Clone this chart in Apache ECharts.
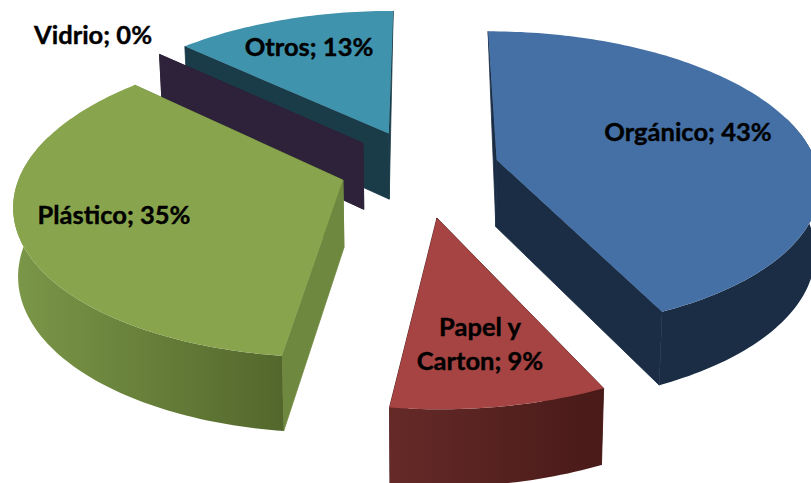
<!DOCTYPE html>
<html>
<head>
<meta charset="utf-8">
<style>
html,body{margin:0;padding:0;background:#fff;overflow:hidden}
#chart{width:811px;height:483px}
#chart text{font-variant-ligatures:none}
</style>
<script src="https://cdn.jsdelivr.net/npm/echarts@6/dist/echarts.min.js"></script>
</head>
<body>
<div id="chart"></div>
<script>
// Waste composition, clockwise from the top of the pie
const categories = ['Orgánico', 'Papel y\nCarton', 'Plástico', 'Vidrio', 'Otros'];
const percentages = [43, 9, 35, 0, 13];

// Exploded offset of each slice, in pie radii (right, towards viewer)
const sliceShift = [[0.222, -0.034], [0.0325, 0.341], [-0.256, 0.1], [-0.201, -0.15], [-0.12, -0.219]];
// Back-to-front painting order
const paintRank = [3, 4, 2, 1, 0];
const topColors = ['#4570a6', '#a54442', '#88a44c', '#3a2f4f', '#3f93ad'];
const cutColors = ['#1a2d45', '#4c1d1b', '#6e883f', '#2d2239', '#1a3b48'];
const rimColors = [['#1a2d45', '#1a2d45'], ['#652a28', '#481a18'], ['#7b9748', '#53672c'], ['#2d2239', '#2d2239'], ['#1a3b48', '#1a3b48']];
const labelCentres = [[688, 131], [480, 343], [114, 214], [93, 34], [309, 46]];

// Projection of the tilted pie onto the page
const cx = 426, cy = 165, radiusX = 320, tilt = 148, perspective = 0.14, depth = 67, baseNarrow = 0.988;

function project(u, v, lower) {
  const s = 1 / (1 - perspective * v);
  const x = radiusX * u * s * (lower ? baseNarrow : 1);
  const y = tilt * v * s + (lower ? depth * Math.pow(s, 0.7) : 0);
  return [cx + x, cy + y];
}

const total = percentages.reduce((a, b) => a + b, 0);
const starts = [];
percentages.reduce((sum, v, i) => { starts[i] = sum; return sum + v; }, 0);

function renderSlice(params, api) {
  const i = params.dataIndex;
  const value = api.value(0);
  const a0 = starts[i] / total * 2 * Math.PI;
  const a1 = a0 + value / total * 2 * Math.PI;
  const [du, dv] = sliceShift[i];
  const rank = paintRank[i] * 10;

  const rimPoint = (a, lower) => project(du + Math.sin(a), dv - Math.cos(a), lower);
  const steps = Math.max(1, Math.ceil((a1 - a0) / 0.02));
  const upper = [], wallTop = [], wallBase = [];
  for (let k = 0; k <= steps; k++) {
    const a = a0 + (a1 - a0) * k / steps;
    upper.push(rimPoint(a, false));
    // The outer wall is only seen along the near part of the rim
    if (Math.cos(a) < 0.3) {
      wallTop.push(rimPoint(a, false));
      wallBase.push(rimPoint(a, true));
    }
  }
  const apexTop = project(du, dv, false);
  const apexBase = project(du, dv, true);
  const poly = (points, fill, z, stroke) => ({
    type: 'polygon', shape: { points }, z2: rank + z,
    style: { fill, stroke: stroke || null, lineWidth: stroke ? 0.8 : 0 }
  });
  // A face running straight back shows only as a sliver down to the base of the apex
  const cutFace = (a, z) => {
    const points = Math.cos(a) > 0.95
      ? [apexTop, rimPoint(a, false), apexBase]
      : [apexTop, rimPoint(a, false), rimPoint(a, true), apexBase];
    return poly(points, cutColors[i], z, cutColors[i]);
  };

  const children = [cutFace(a1, 1), cutFace(a0, 2)];
  if (value > 0) {
    if (wallTop.length > 1) {
      children.push(poly(wallTop.concat(wallBase.slice().reverse()),
        new echarts.graphic.LinearGradient(0, 0, 1, 0, [
          { offset: 0, color: rimColors[i][0] },
          { offset: 1, color: rimColors[i][1] }
        ]), 3));
    }
    children.push(poly([apexTop].concat(upper), topColors[i], 4));
  }
  const [lx, ly] = labelCentres[i];
  children.push({
    type: 'text', x: lx, y: ly, z2: 100,
    style: {
      text: categories[i] + '; ' + value + '%',
      fill: '#000', stroke: '#000', lineWidth: 0.4,
      align: 'center', verticalAlign: 'middle',
      font: 'bold 25.5px Lato', lineHeight: 34
    }
  });
  return { type: 'group', children };
}

const chart = echarts.init(document.getElementById('chart'), null, { renderer: 'svg' });
chart.setOption({
  backgroundColor: '#ffffff',
  animation: false,
  series: [{
    type: 'custom',
    coordinateSystem: 'none',
    renderItem: renderSlice,
    data: percentages.map(v => [v]),
    clip: false
  }]
});
</script>
</body>
</html>
